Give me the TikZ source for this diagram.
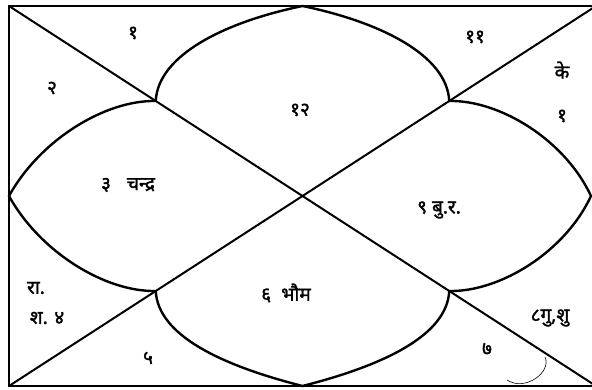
\documentclass[tikz,border=0pt]{standalone}
\usepackage{fontspec}
\newfontfamily\devfont[Script=Devanagari, FakeBold=1.6]{Noto Sans}
\usetikzlibrary{positioning}
\tikzset{
  every picture/.style={line width=1.6pt},
  frameline/.style={draw=black, line width=2.4pt},
  diag/.style={draw=black, line width=2pt},
  petal/.style={draw=black, line width=2.4pt},
  stray/.style={draw=black, line width=0.6pt},
  house/.style={font=\devfont\fontsize{19}{22}\selectfont, inner sep=1pt},
}

\begin{document}
\begin{tikzpicture}[x=1pt, y=-1pt]
  \useasboundingbox (0,0) rectangle (592,390);
  % frame corners
  \coordinate (tl) at (9,6);
  \coordinate (tr) at (596,6);
  \coordinate (br) at (596,386);
  \coordinate (bl) at (9,386);
  % cusps on the sides
  \coordinate (ctop) at (302.5,6);
  \coordinate (cright) at (591,196);
  \coordinate (cbot) at (302.5,386);
  \coordinate (cleft) at (9,196);
  % junctions on the diagonals
  \coordinate (jtl) at (155.75,101);
  \coordinate (jtr) at (449.25,101);
  \coordinate (jbr) at (449.25,291);
  \coordinate (jbl) at (155.75,291);

  \draw[frameline] (tl) rectangle (br);
  \draw[diag] (tl) -- (br);
  \draw[diag] (bl) -- (tr);

  % curved petals
  \draw[petal] (jtl) .. controls (158,55) and (225,22) .. (ctop)
                     .. controls (380,22) and (447,55) .. (jtr);
  \draw[petal] (jtr) .. controls (500,100) and (565,140) .. (cright)
                     .. controls (565,252) and (500,292) .. (jbr);
  \draw[petal] (jbr) .. controls (447,335) and (385,365) .. (cbot)
                     .. controls (220,365) and (158,335) .. (jbl);
  \draw[petal] (jbl) .. controls (105,292) and (40,252) .. (cleft)
                     .. controls (40,140) and (105,100) .. (jtl);
  \coordinate (sa) at (545,357);
  \coordinate (sb) at (507,380);
  \draw[stray] (sa) .. controls (552,372) and (525,392) .. (sb);

  % house labels
  \node[house] (h1) at (133,33) {१};
  \node[house] (h2) at (52,88) {२};
  \node[house] (h3) at (128,185) {३\hspace{16pt}चन्द्र};
  \node[house] (h4a) at (36,288) {रा.};
  \node[house] (h4b) at (47,318) {श. ४};
  \node[house] (h5) at (148,358) {५};
  \node[house] (h6) at (286,293) {६\hspace{10pt}भौम};
  \node[house] (h7) at (487,349) {७};
  \node[house] (h8) at (550,318) {८गु,शु};
  \node[house] (h9) at (439,210) {९\hspace{5pt}बु.र.};
  \node[house] (h10a) at (562,70) {के};
  \node[house] (h10b) at (562,116) {१};
  \node[house] (h11) at (475,37) {११};
  \node[house] (h12) at (300,110) {१२};
\end{tikzpicture}
\end{document}
